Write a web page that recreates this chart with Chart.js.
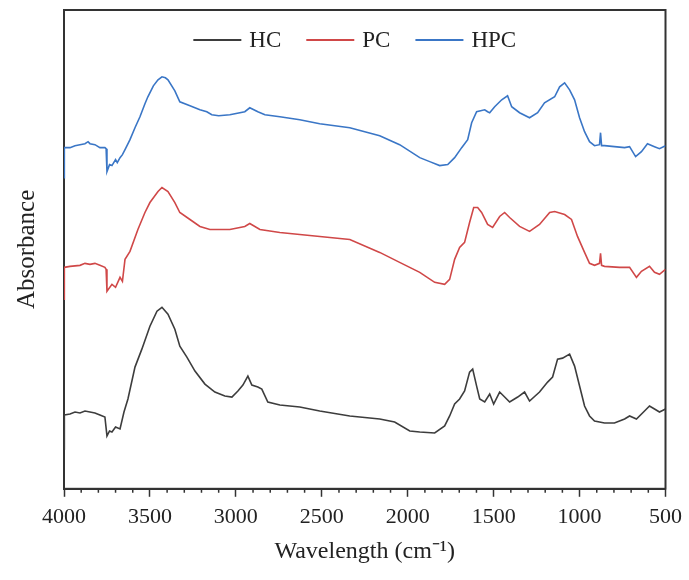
<!DOCTYPE html>
<html>
<head>
<meta charset="utf-8">
<script src="https://cdn.jsdelivr.net/npm/chart.js@4"></script>
<style>
  body { margin: 0; background: #fff; }
  #wrap { width: 689px; height: 580px; }
</style>
</head>
<body>
<div id="wrap"><canvas id="ftirChart"></canvas></div>
<script>
const xTicks = [4000, 3500, 3000, 2500, 2000, 1500, 1000, 500];

// HC (black)
const hcWave = [4000, 3998, 3965, 3936, 3907, 3878, 3849, 3820, 3791, 3762, 3750, 3735, 3721, 3700, 3674, 3651, 3628, 3587, 3547, 3500, 3459, 3430, 3395, 3355, 3326, 3285, 3238, 3180, 3122, 3064, 3023, 2988, 2959, 2930, 2907, 2872, 2849, 2814, 2744, 2628, 2512, 2337, 2163, 2076, 1988, 1930, 1843, 1785, 1756, 1727, 1698, 1669, 1640, 1622, 1599, 1581, 1552, 1523, 1500, 1465, 1436, 1407, 1360, 1320, 1291, 1233, 1186, 1157, 1128, 1099, 1058, 1029, 1000, 971, 942, 913, 855, 797, 738, 709, 669, 622, 593, 564, 535, 500];
const hcAbs = [0.40, 0.74, 0.75, 0.77, 0.76, 0.78, 0.77, 0.76, 0.74, 0.72, 0.53, 0.58, 0.57, 0.62, 0.60, 0.77, 0.90, 1.22, 1.40, 1.63, 1.78, 1.82, 1.75, 1.60, 1.43, 1.32, 1.18, 1.05, 0.97, 0.93, 0.92, 0.98, 1.04, 1.13, 1.04, 1.02, 1.00, 0.87, 0.84, 0.82, 0.78, 0.73, 0.70, 0.67, 0.58, 0.57, 0.56, 0.63, 0.73, 0.85, 0.90, 0.98, 1.17, 1.20, 1.03, 0.90, 0.87, 0.95, 0.85, 0.97, 0.92, 0.87, 0.92, 0.97, 0.88, 0.97, 1.07, 1.12, 1.30, 1.31, 1.35, 1.23, 1.03, 0.83, 0.73, 0.68, 0.66, 0.66, 0.70, 0.73, 0.70, 0.78, 0.83, 0.80, 0.77, 0.80];

// PC (red)
const pcWave = [4000, 3998, 3965, 3907, 3878, 3849, 3820, 3791, 3762, 3755, 3750, 3721, 3700, 3674, 3660, 3645, 3616, 3570, 3529, 3500, 3453, 3430, 3395, 3355, 3326, 3267, 3209, 3151, 3035, 2948, 2919, 2860, 2744, 2628, 2337, 2163, 2047, 1930, 1843, 1785, 1756, 1727, 1698, 1669, 1640, 1616, 1593, 1570, 1535, 1506, 1465, 1436, 1407, 1349, 1291, 1233, 1174, 1145, 1087, 1047, 1012, 971, 942, 913, 884, 878, 872, 855, 767, 709, 669, 640, 593, 564, 535, 500];
const pcAbs = [1.90, 2.22, 2.23, 2.24, 2.26, 2.25, 2.26, 2.24, 2.22, 2.20, 1.98, 2.05, 2.02, 2.12, 2.08, 2.30, 2.38, 2.60, 2.77, 2.87, 2.98, 3.02, 2.98, 2.87, 2.77, 2.70, 2.63, 2.60, 2.60, 2.63, 2.66, 2.60, 2.57, 2.55, 2.50, 2.37, 2.27, 2.17, 2.07, 2.05, 2.10, 2.30, 2.42, 2.47, 2.67, 2.82, 2.82, 2.77, 2.65, 2.62, 2.73, 2.77, 2.72, 2.63, 2.58, 2.65, 2.77, 2.78, 2.75, 2.70, 2.53, 2.37, 2.26, 2.24, 2.26, 2.36, 2.24, 2.23, 2.22, 2.22, 2.12, 2.18, 2.23, 2.17, 2.15, 2.20];

// HPC (blue)
const hpcWave = [4000, 3998, 3965, 3936, 3907, 3878, 3860, 3849, 3820, 3791, 3762, 3755, 3750, 3735, 3721, 3700, 3690, 3674, 3660, 3645, 3616, 3587, 3558, 3529, 3512, 3480, 3453, 3430, 3410, 3395, 3355, 3326, 3267, 3209, 3169, 3140, 3100, 3035, 2948, 2919, 2872, 2831, 2744, 2628, 2512, 2337, 2163, 2047, 1930, 1872, 1814, 1767, 1727, 1686, 1651, 1628, 1599, 1552, 1535, 1523, 1494, 1453, 1419, 1395, 1349, 1291, 1244, 1204, 1145, 1116, 1087, 1058, 1029, 1000, 971, 942, 913, 884, 878, 872, 855, 797, 738, 709, 674, 640, 605, 564, 535, 500];
const hpcAbs = [3.12, 3.42, 3.42, 3.44, 3.45, 3.46, 3.48, 3.46, 3.45, 3.42, 3.42, 3.41, 3.18, 3.25, 3.24, 3.30, 3.27, 3.32, 3.35, 3.40, 3.50, 3.62, 3.73, 3.86, 3.93, 4.04, 4.10, 4.13, 4.12, 4.10, 3.99, 3.88, 3.84, 3.80, 3.78, 3.75, 3.74, 3.75, 3.78, 3.82, 3.78, 3.75, 3.73, 3.70, 3.66, 3.62, 3.54, 3.45, 3.32, 3.28, 3.24, 3.25, 3.32, 3.42, 3.50, 3.67, 3.78, 3.80, 3.78, 3.77, 3.83, 3.90, 3.94, 3.83, 3.77, 3.72, 3.77, 3.87, 3.93, 4.03, 4.07, 4.00, 3.90, 3.72, 3.58, 3.48, 3.44, 3.45, 3.57, 3.44, 3.44, 3.43, 3.42, 3.43, 3.33, 3.38, 3.46, 3.43, 3.41, 3.44];

const FONT = '"Liberation Serif", "Times New Roman", serif';

function toPoints(xs, ys) {
    return xs.map((x, i) => ({ x: x, y: ys[i] }));
}

function series(label, xs, ys, color) {
    return {
        label: label,
        data: toPoints(xs, ys),
        borderColor: color,
        borderWidth: 1.6,
        pointRadius: 0,
        tension: 0,
        fill: false,
    };
}

// box around plot + short minor ticks every 100
const frameTicks = {
    id: 'frameTicks',
    beforeDatasetsDraw(chart) {
        const { ctx, chartArea: a, scales: { x } } = chart;
        ctx.save();
        ctx.strokeStyle = '#333';
        ctx.lineWidth = 2;
        ctx.strokeRect(a.left, a.top, a.right - a.left, a.bottom - a.top);
        ctx.lineWidth = 1.5;
        ctx.beginPath();
        for (let w = 600; w < 4000; w += 100) {
            if (w % 500 === 0) continue;
            const px = x.getPixelForValue(w);
            ctx.moveTo(px, a.bottom);
            ctx.lineTo(px, a.bottom + 4);
        }
        ctx.stroke();
        ctx.restore();
    }
};

// legend drawn inside the frame, line + label
const lineLegend = {
    id: 'lineLegend',
    afterDraw(chart) {
        const { ctx, chartArea: a } = chart;
        ctx.save();
        ctx.font = '23px ' + FONT;
        ctx.textBaseline = 'middle';
        const lineLen = 48, gap = 8, spacing = 25;
        const items = chart.data.datasets.map(d => ({
            label: d.label, color: d.borderColor, w: ctx.measureText(d.label).width
        }));
        const total = items.reduce((s, it) => s + lineLen + gap + it.w, 0) + spacing * (items.length - 1);
        let x = (a.left + a.right) / 2 - 10 - total / 2;
        const y = a.top + 30;
        items.forEach(it => {
            ctx.strokeStyle = it.color;
            ctx.lineWidth = 2;
            ctx.beginPath();
            ctx.moveTo(x, y);
            ctx.lineTo(x + lineLen, y);
            ctx.stroke();
            ctx.fillStyle = '#222';
            ctx.fillText(it.label, x + lineLen + gap, y + 1);
            x += lineLen + gap + it.w + spacing;
        });
        ctx.restore();
    }
};

new Chart(document.getElementById('ftirChart'), {
    type: 'line',
    data: {
        datasets: [
            series('HC', hcWave, hcAbs, '#3d3d3d'),
            series('PC', pcWave, pcAbs, '#d04848'),
            series('HPC', hpcWave, hpcAbs, '#3a76c6'),
        ],
    },
    options: {
        responsive: true,
        maintainAspectRatio: false,
        animation: false,
        layout: { padding: { top: 10, right: 23 } },
        plugins: {
            legend: { display: false },
            tooltip: { enabled: false },
        },
        scales: {
            x: {
                type: 'linear',
                reverse: true,
                min: 500,
                max: 4000,
                afterBuildTicks: s => { s.ticks = xTicks.map(v => ({ value: v })); },
                grid: { display: true, drawOnChartArea: false, tickLength: 8, tickColor: '#333', tickWidth: 1.5 },
                border: { display: true, color: '#333', width: 2 },
                ticks: {
                    color: '#222',
                    font: { family: FONT, size: 22 },
                    padding: 7,
                    maxRotation: 0,
                    callback: v => String(v),
                },
                title: {
                    display: true,
                    text: 'Wavelength (cm\u207B\u00B9)',
                    color: '#222',
                    font: { family: FONT, size: 24 },
                    padding: { top: 0, bottom: 14 },
                },
            },
            y: {
                min: 0,
                max: 4.8,
                grid: { display: false, drawTicks: false },
                border: { display: true, color: '#333', width: 2 },
                ticks: { display: false },
                title: {
                    display: true,
                    text: 'Absorbance',
                    color: '#222',
                    font: { family: FONT, size: 25 },
                    padding: { top: 12, bottom: 22 },
                },
            },
        },
    },
    plugins: [frameTicks, lineLegend],
});
</script>
</body>
</html>
